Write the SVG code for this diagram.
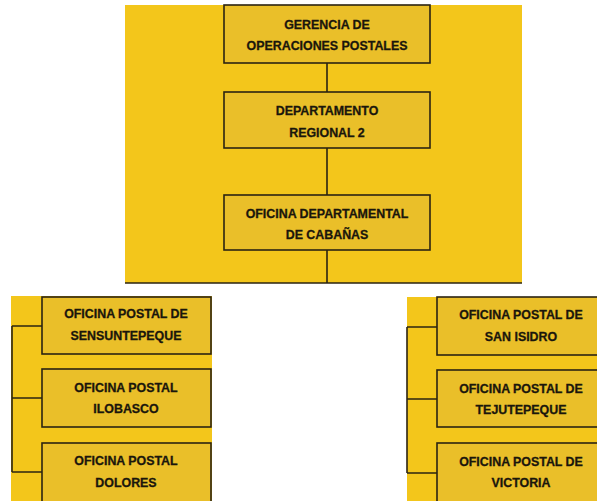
<svg xmlns="http://www.w3.org/2000/svg" width="597" height="501" viewBox="0 0 597 501">
<style>
.panel{fill:#F3C61B}
.box{fill:#EABF29;stroke:#2B2412;stroke-width:1.6}
.ln{fill:none;stroke:#2B2412;stroke-width:1.6}
text{font-family:"Liberation Sans",Arial,sans-serif;font-weight:bold;font-size:12.4px;fill:#1A160C;stroke:#1A160C;stroke-width:0.3;text-anchor:middle}
</style>
<rect width="597" height="501" fill="#FFFFFF"/>
<rect class="panel" x="125" y="5" width="397" height="278"/>
<rect class="panel" x="11" y="296" width="201" height="205"/>
<rect class="panel" x="407" y="297" width="190" height="204"/>
<g id="connectors">
<path class="ln" d="M327 63V92M327 148V195M327 250V283M125 283H522"/>
<path class="ln" d="M12 326V472M12 326H42M12 398H42M12 472H42"/>
<path class="ln" d="M407 327V473M407 327H437M407 399H437M407 473H437"/>
</g>
<g id="n1"><rect class="box" x="224" y="5" width="206" height="58"/><text x="327" y="29">GERENCIA DE</text><text x="327" y="50">OPERACIONES POSTALES</text></g>
<g id="n2"><rect class="box" x="224" y="92" width="206" height="56"/><text x="327" y="115">DEPARTAMENTO</text><text x="327" y="137">REGIONAL 2</text></g>
<g id="n3"><rect class="box" x="224" y="195" width="206" height="55"/><text x="327" y="218">OFICINA DEPARTAMENTAL</text><text x="327" y="239">DE CABAÑAS</text></g>
<g id="l1"><rect class="box" x="42" y="297" width="169" height="57"/><text x="126" y="318">OFICINA POSTAL DE</text><text x="126" y="340">SENSUNTEPEQUE</text></g>
<g id="l2"><rect class="box" x="42" y="369" width="169" height="58"/><text x="126" y="392">OFICINA POSTAL</text><text x="126" y="413">ILOBASCO</text></g>
<g id="l3"><rect class="box" x="42" y="443" width="169" height="70"/><text x="126" y="465">OFICINA POSTAL</text><text x="126" y="487">DOLORES</text></g>
<g id="r1"><rect class="box" x="437" y="297" width="163" height="58"/><text x="521" y="319">OFICINA POSTAL DE</text><text x="521" y="341">SAN ISIDRO</text></g>
<g id="r2"><rect class="box" x="437" y="370" width="163" height="57"/><text x="521" y="393">OFICINA POSTAL DE</text><text x="521" y="414">TEJUTEPEQUE</text></g>
<g id="r3"><rect class="box" x="437" y="443" width="163" height="70"/><text x="521" y="466">OFICINA POSTAL DE</text><text x="521" y="487">VICTORIA</text></g>
</svg>
